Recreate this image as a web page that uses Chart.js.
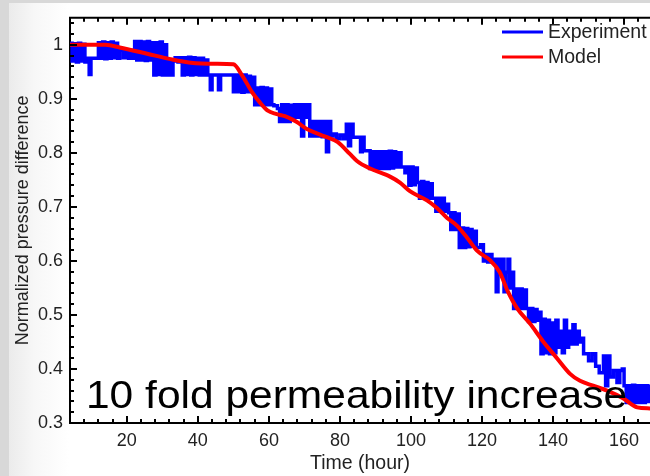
<!DOCTYPE html>
<html>
<head>
<meta charset="utf-8">
<script src="https://cdn.jsdelivr.net/npm/chart.js@4.4.1/dist/chart.umd.min.js"></script>
<style>
  html, body { margin: 0; padding: 0; }
  body { width: 650px; height: 476px; position: relative; overflow: hidden; background: #d8d8d8; }
  .panel { position: absolute; left: 9px; top: 3px; right: 0; bottom: 0;
           background: linear-gradient(to right, #ebebeb 0px, #f7f7f7 25px, #ffffff 60px); }
  #chart { position: absolute; left: 0; top: 0; }
</style>
</head>
<body>
<div class="panel"></div>
<canvas id="chart" width="650" height="476"></canvas>
<script>
// Pressure decline: measured vs modelled, 10x permeability case

const xMajorTicks = [20, 40, 60, 80, 100, 120, 140, 160];
const yMajorTicks = [0.3, 0.4, 0.5, 0.6, 0.7, 0.8, 0.9, 1];

const modelTime = [4, 14, 18, 26, 32, 38, 45, 50, 52.4, 55.2, 57.5, 59.7, 62, 64.5, 67.9, 70.7, 73.5,
  76.3, 79.4, 82.8, 84.8, 88.5, 94.1, 96.9, 99.7, 104.5, 107.3, 110.1, 113, 115.8, 118.6, 122.3,
  125, 127.3, 129.9, 133.5, 137.2, 141.1, 144.8, 147.6, 151.3, 155.2, 159.7, 163.7, 167.5];
const modelValue = [1.0, 1.0, 0.995, 0.983, 0.974, 0.967, 0.965, 0.964, 0.944, 0.913, 0.893, 0.878,
  0.872, 0.868, 0.857, 0.844, 0.836, 0.829, 0.82, 0.798, 0.785, 0.771, 0.756, 0.745, 0.729, 0.712,
  0.698, 0.68, 0.665, 0.643, 0.619, 0.601, 0.579, 0.543, 0.512, 0.484, 0.451, 0.42, 0.391, 0.378,
  0.369, 0.36, 0.346, 0.329, 0.327];

// [time (h), normalized pressure] - noisy logger trace
const experimentData = [
  [4.0,1.003],[4.6,0.970],[5.2,1.002],[5.8,0.968],[6.4,1.003],[7.0,0.970],[7.6,1.001],[8.2,0.968],
  [8.7,0.975],[9.4,0.945],[9.9,0.975],
  [12.0,1.004],[12.6,0.975],[13.2,1.005],[13.8,0.974],[14.4,1.004],[15.0,0.975],[15.6,1.005],[16.2,0.976],[16.8,1.003],[17.4,0.975],
  [18.0,0.99],[19.0,0.976],[19.6,0.99],[20.5,0.975],[21.2,0.99],[21.8,0.975],
  [22.2,1.006],[22.8,0.972],[23.4,1.006],[24.0,0.972],[24.6,1.005],[25.2,0.971],[25.8,1.006],[26.4,0.972],[27.0,1.004],
  [27.6,0.944],[28.2,1.004],[28.8,0.945],[29.4,1.005],[30.0,0.944],[30.6,1.0],[31.2,0.944],[31.8,0.972],[32.4,0.944],[33.0,0.97],
  [33.6,0.976],[34.4,0.968],[35.0,0.976],[35.6,0.944],[36.2,0.976],[36.8,0.945],[37.4,0.977],[38.0,0.944],[38.6,0.976],
  [39.2,0.945],[39.8,0.975],[40.4,0.944],[41.0,0.975],[41.6,0.944],[42.2,0.972],[42.8,0.944],
  [43.5,0.917],[44.0,0.944],[45.8,0.917],[46.4,0.944],
  [50.0,0.913],[50.6,0.944],[51.2,0.913],[51.8,0.944],[52.4,0.912],[53.0,0.944],[53.6,0.913],[54.2,0.942],[54.8,0.913],[55.4,0.94],
  [56.0,0.889],[56.6,0.92],[57.2,0.889],[57.8,0.921],[58.4,0.889],[59.0,0.92],[59.6,0.889],[60.2,0.918],[60.8,0.889],
  [61.4,0.887],[62.4,0.882],
  [63.0,0.858],[63.6,0.889],[64.2,0.858],[64.8,0.889],[65.4,0.858],[66.0,0.888],[66.6,0.862],
  [67.2,0.889],[68.0,0.866],[68.6,0.889],[69.2,0.831],[69.8,0.889],[70.4,0.866],[71.0,0.889],[71.5,0.831],
  [72.0,0.858],[72.6,0.831],[73.2,0.858],[73.8,0.831],[74.4,0.858],[75.0,0.83],
  [75.6,0.858],[76.2,0.802],[76.8,0.858],[77.4,0.831],
  [78.0,0.835],[79.0,0.826],[80.0,0.833],[81.0,0.826],[81.8,0.853],[82.4,0.813],[83.0,0.853],[83.7,0.829],
  [85.8,0.802],[86.3,0.829],[86.8,0.804],
  [88.5,0.771],[89.1,0.802],[89.7,0.771],[90.3,0.802],[90.9,0.771],[91.5,0.802],[92.1,0.771],[92.7,0.802],[93.3,0.771],
  [93.9,0.803],[94.5,0.772],[95.1,0.802],[95.7,0.774],
  [96.6,0.80],[97.2,0.774],[98.3,0.763],[98.9,0.774],
  [99.4,0.74],[100.0,0.774],[100.6,0.741],[101.2,0.772],[101.8,0.745],
  [102.4,0.716],[103.0,0.747],[103.6,0.716],[104.2,0.745],[104.8,0.716],[105.4,0.743],[106.0,0.716],
  [107.0,0.692],[107.6,0.716],[108.2,0.692],[108.8,0.716],[109.4,0.692],[110.0,0.705],
  [110.6,0.689],[111.2,0.658],[111.8,0.689],[112.4,0.658],[113.0,0.687],
  [113.6,0.625],[114.2,0.661],[114.8,0.625],[115.4,0.66],[116.0,0.626],[116.6,0.658],[117.2,0.627],[117.8,0.655],
  [118.4,0.625],[119.6,0.63],[120.4,0.60],[121.0,0.612],[121.6,0.598],[122.2,0.612],[122.8,0.60],
  [123.4,0.603],[124.0,0.543],[124.5,0.603],[125.1,0.579],[125.6,0.603],
  [126.2,0.543],[126.8,0.579],[127.3,0.603],[127.8,0.55],[128.4,0.579],
  [128.9,0.512],[129.5,0.548],[130.1,0.512],[130.7,0.548],[131.3,0.512],[131.9,0.546],[132.5,0.512],
  [133.1,0.488],[133.7,0.512],[134.3,0.488],[134.9,0.51],[135.5,0.49],[136.1,0.505],
  [136.6,0.428],[137.2,0.492],[137.8,0.43],[138.4,0.49],[139.0,0.428],[139.6,0.485],[140.2,0.43],[140.8,0.49],[141.4,0.44],
  [142.0,0.47],[142.6,0.43],[143.2,0.49],[143.8,0.44],[144.4,0.47],
  [145.0,0.446],[145.6,0.482],[146.2,0.446],[146.8,0.47],[147.4,0.45],
  [148.0,0.457],[148.6,0.428],
  [150.0,0.415],[151.0,0.428],[152.0,0.405],[153.0,0.393],
  [154.2,0.424],[154.8,0.369],[155.4,0.424],[156.0,0.385],
  [157.0,0.397],[158.0,0.375],[158.8,0.397],
  [159.5,0.40],[160.0,0.369],
  [160.6,0.338],[161.2,0.369],[161.8,0.338],[162.4,0.37],[163.0,0.338],[163.6,0.369],[164.2,0.338],
  [164.8,0.369],[165.4,0.338],[166.0,0.369],[166.6,0.34],[167.2,0.368],[167.8,0.345]
];

const FONT = "'Liberation Sans', Arial, Helvetica, sans-serif";
const TEXT = '#222';

// inward ticks (major + minor) on left, bottom and top, plus top frame line
const frameTicks = {
  id: 'frameTicks',
  afterDatasetsDraw(chart) {
    const { ctx, chartArea: a, scales: { x, y } } = chart;
    ctx.save();
    ctx.strokeStyle = '#000';
    ctx.lineWidth = 2;
    ctx.beginPath();
    ctx.moveTo(a.left - 1, a.top);
    ctx.lineTo(a.right, a.top);
    for (let k = 0; k <= 37; k++) {
      const py = Math.round(y.getPixelForValue(0.3 + k * 0.02));
      const len = k % 5 === 0 ? 7 : 4;
      ctx.moveTo(a.left, py);
      ctx.lineTo(a.left + len, py);
    }
    for (let k = 2; k <= 41; k++) {
      const px = Math.round(x.getPixelForValue(k * 4));
      const len = (k * 4) % 20 === 0 ? 7 : 4;
      ctx.moveTo(px, a.bottom);
      ctx.lineTo(px, a.bottom - len);
      ctx.moveTo(px, a.top);
      ctx.lineTo(px, a.top + len);
    }
    ctx.stroke();
    ctx.restore();
  },
  afterDraw(chart) {
    const { ctx, scales: { x, y } } = chart;
    ctx.save();
    // legend, top right inside the frame
    const sets = [chart.data.datasets[0], chart.data.datasets[1]];
    sets.forEach((ds, i) => {
      const ly = 32 + i * 25;
      ctx.strokeStyle = ds.borderColor;
      ctx.lineWidth = 3;
      ctx.beginPath();
      ctx.moveTo(502, ly);
      ctx.lineTo(543, ly);
      ctx.stroke();
      ctx.fillStyle = TEXT;
      ctx.font = `19.5px ${FONT}`;
      ctx.textAlign = 'left';
      ctx.textBaseline = 'middle';
      ctx.fillText(ds.label, 548, ly + 1);
    });
    // annotation
    const ax = x.getPixelForValue(8.5);
    const ay = y.getPixelForValue(0.327);
    ctx.translate(ax, ay);
    ctx.scale(1.09, 1);
    ctx.fillStyle = '#000';
    ctx.font = `39px ${FONT}`;
    ctx.textBaseline = 'alphabetic';
    ctx.fillText('10 fold permeability increase', 0, 0);
    ctx.restore();
  }
};

new Chart(document.getElementById('chart'), {
  type: 'line',
  data: {
    datasets: [
      {
        label: 'Experiment',
        data: experimentData.map(([t, v]) => ({ x: t, y: v })),
        borderColor: '#0000ff',
        borderWidth: 3.5,
        pointRadius: 0,
        stepped: true,
        order: 2,
      },
      {
        label: 'Model',
        data: modelTime.map((t, i) => ({ x: t, y: modelValue[i] })),
        borderColor: '#ff0000',
        borderWidth: 4,
        pointRadius: 0,
        cubicInterpolationMode: 'monotone',
        order: 1,
      }
    ]
  },
  options: {
    responsive: false,
    animation: false,
    layout: { padding: { top: 12, left: 0, right: 0, bottom: 0 } },
    plugins: { legend: { display: false }, tooltip: { enabled: false } },
    scales: {
      x: {
        type: 'linear',
        min: 4,
        max: 167.3,
        afterBuildTicks: s => { s.ticks = xMajorTicks.map(v => ({ value: v })); },
        afterFit: s => { s.height = 53; },
        grid: { display: false, drawTicks: false },
        border: { display: true, color: '#000', width: 2 },
        ticks: { padding: 7, color: TEXT, font: { family: FONT, size: 18 }, maxRotation: 0, autoSkip: false },
        title: { display: true, text: 'Time (hour)', color: TEXT, font: { family: FONT, size: 19.5 }, padding: { top: 0, bottom: 1 } }
      },
      y: {
        min: 0.3,
        max: 1.05,
        afterBuildTicks: s => { s.ticks = yMajorTicks.map(v => ({ value: v })); },
        afterFit: s => { s.width = 70; },
        grid: { display: false, drawTicks: false },
        border: { display: true, color: '#000', width: 2 },
        ticks: { padding: 7, color: TEXT, font: { family: FONT, size: 18 }, callback: v => String(v) },
        title: { display: true, text: 'Normalized pressure difference', color: TEXT, font: { family: FONT, size: 18 }, padding: { top: 12, bottom: 0 } }
      }
    }
  },
  plugins: [frameTicks]
});
</script>
</body>
</html>
